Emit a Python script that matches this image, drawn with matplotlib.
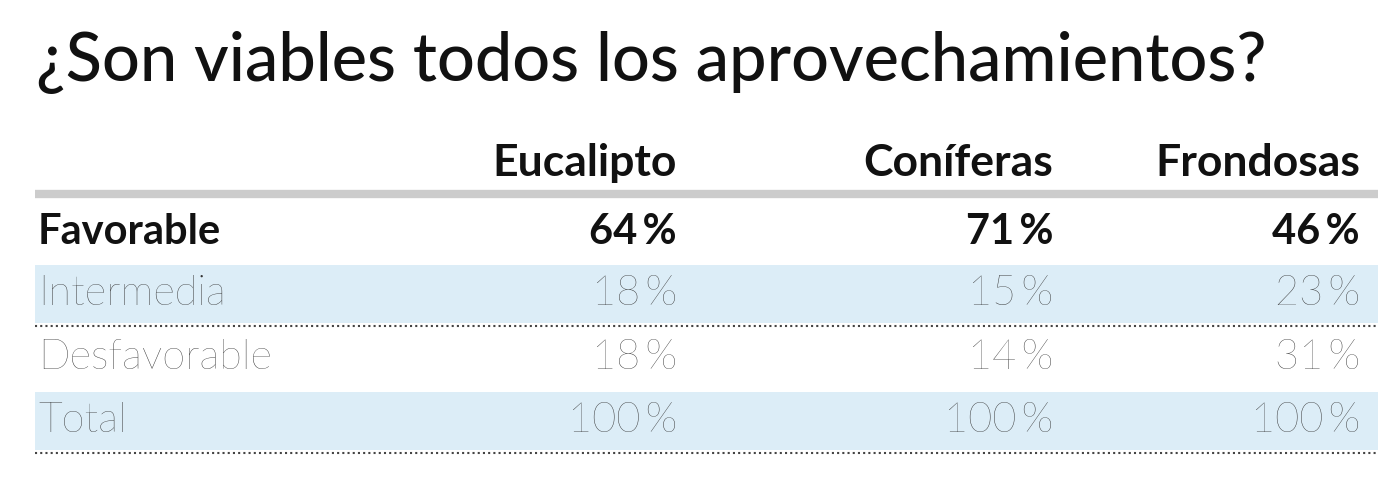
import matplotlib
matplotlib.use("Agg")
import matplotlib.pyplot as plt

title = "¿Son viables todos los aprovechamientos?"
columns = ["Eucalipto", "Coníferas", "Frondosas"]
rows = ["Favorable", "Intermedia", "Desfavorable", "Total"]
eucalipto = [64, 18, 18, 100]
coniferas = [71, 15, 14, 100]
frondosas = [46, 23, 31, 100]
values = [eucalipto, coniferas, frondosas]

plt.rcParams['font.family'] = ['Lato', 'DejaVu Sans']
fig = plt.figure(figsize=(14, 4.87), dpi=100)
ax = fig.add_axes([0, 0, 1, 1])
ax.set_xlim(0, 1400); ax.set_ylim(487, 0); ax.axis('off')

ax.text(36, 62, title, fontsize=48, fontweight='medium', va='center', ha='left', color='#111111')
col_x = [677, 1053, 1360]
for x, c in zip(col_x, columns):
    ax.text(x, 163, c, fontsize=32, fontweight='bold', ha='right', va='center', color='#111111')
ax.plot([35, 1378], [194, 194], color='#cccccc', lw=6, solid_capstyle='butt')

row_y = [232, 294, 358, 421]
blue = '#dcedf7'
for i, (r, y) in enumerate(zip(rows, row_y)):
    if i in (1, 3):
        ax.add_patch(plt.Rectangle((35, y - 29), 1343, 58, color=blue, lw=0))
        ax.plot([35, 1378], [y + 32, y + 32], color='#444444', lw=1.5, ls=(0, (1, 1.5)))
    bold = i == 0
    fs = 30 if bold else 30
    ax.text(38, y, r, fontsize=fs, fontweight='bold' if bold else 'light',
            ha='left', va='center', color='#111111' if bold else '#333333')
    for x, col in zip(col_x, values):
        ax.text(x, y, f"{col[i]}\u2009%", fontsize=fs, fontweight='bold' if bold else 'light',
                ha='right', va='center', color='#111111' if bold else '#333333')

fig.savefig("out.png", dpi=100)
